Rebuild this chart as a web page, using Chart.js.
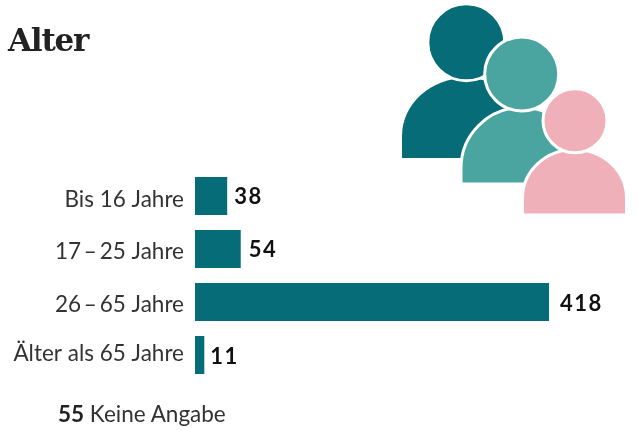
<!DOCTYPE html>
<html><head><meta charset="utf-8">
<script src="https://cdn.jsdelivr.net/npm/chart.js@4"></script>
<style>
html,body{margin:0;padding:0;background:#fff;width:638px;height:430px;overflow:hidden}
#wrap{position:relative;width:638px;height:430px}
#c{position:absolute;left:0;top:0}
#title{position:absolute;left:8px;top:19px;font:bold 31px/42px "DejaVu Serif",serif;color:#222;letter-spacing:-1.2px}
#note{position:absolute;left:58px;top:401px;font:22.5px/26px Lato,sans-serif;color:#333;white-space:pre}
#note b{color:#222;font-weight:700}
svg{position:absolute;left:0;top:0}
</style></head><body>
<div id="wrap">
<canvas id="c" width="638" height="430"></canvas>
<div id="title">Alter</div>
<svg width="638" height="430" stroke="#fff" stroke-width="3">
<path fill="#056c78" stroke="none" d="M402 158V136A64 58 0 0 1 530 136V158Z"/>
<circle cx="466.3" cy="42.3" r="38.5" fill="#056c78"/>
<path fill="#4aa5a1" d="M461 184V168A61 60.5 0 0 1 583 168V184Z"/>
<circle cx="521.7" cy="74" r="37" fill="#4aa5a1"/>
<path fill="#efb0ba" d="M522.5 215V198A52 48.5 0 0 1 626.5 198V215Z"/>
<circle cx="575" cy="120.7" r="32" fill="#efb0ba"/>
</svg>
<div id="note"><b>55</b> Keine Angabe</div>
</div>
<script>
const categories = ["Bis 16 Jahre","17\u2009–\u200925 Jahre","26\u2009–\u200965 Jahre","Älter als 65 Jahre"];
const values = [38,54,418,11];
const barColor = "#056c78";

const tickNudgeY = [4,3,3,-1];
const valueNudgeX = [7,8,11,6];
const valueNudgeY = [1,1,2,2];

const textTweaks = {
  id:"textTweaks",
  beforeDraw(chart){
    const items = chart.scales.y.getLabelItems(chart.chartArea);
    items.forEach((it,i)=>{
      if(!it._moved){ it.options.translation[1]+=tickNudgeY[i]; it._moved=true; }
    });
  },
  afterDatasetsDraw(chart){
    const ctx=chart.ctx, meta=chart.getDatasetMeta(0);
    ctx.save();
    ctx.font='700 22px Lato, sans-serif';
    ctx.letterSpacing='1.5px';
    ctx.fillStyle='#111';
    ctx.textBaseline='middle';
    ctx.textAlign='left';
    meta.data.forEach((b,i)=>ctx.fillText(String(values[i]),b.x+valueNudgeX[i],b.y+valueNudgeY[i]));
    ctx.restore();
  }
};
new Chart(document.getElementById('c'),{
  type:'bar',
  data:{labels:categories,datasets:[{data:values,backgroundColor:barColor,barPercentage:38/53,categoryPercentage:1,borderWidth:0}]},
  options:{
    indexAxis:'y',responsive:false,animation:false,
    layout:{padding:{top:169.5,bottom:48.5,left:0,right:19.5}},
    plugins:{legend:{display:false},tooltip:{enabled:false},title:{display:false}},
    scales:{
      x:{min:0,max:500,display:false},
      y:{
        afterFit(s){s.width=195;},
        grid:{display:false},border:{display:false},
        ticks:{color:'#333',font:{family:'Lato, sans-serif',size:22.5},padding:3,autoSkip:false}
      }
    }
  },
  plugins:[textTweaks]
});
</script>
</body></html>
